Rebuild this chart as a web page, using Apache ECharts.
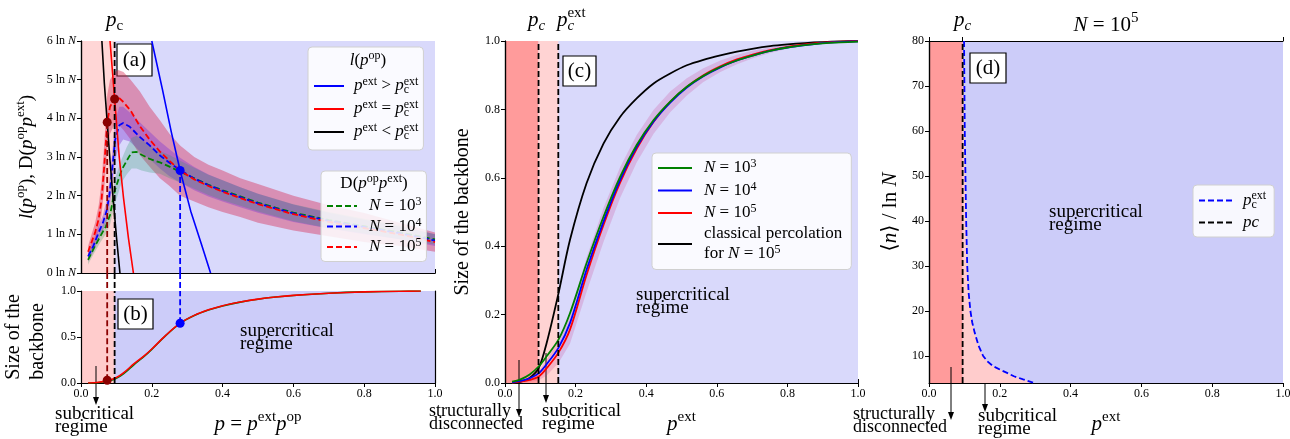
<!DOCTYPE html>
<html><head><meta charset="utf-8">
<script src="https://cdn.jsdelivr.net/npm/echarts@6/dist/echarts.min.js"></script>
<style>html,body{margin:0;padding:0;background:#fff}#c{width:1290px;height:439px}</style>
</head><body><div id="c"></div>
<script>
// ================= DATA =================
const PC = 0.095;      // p_c
const PC_EXT = 0.151;  // p_c^ext (panel c)
const P_LOW = 0.074;   // crossing black l-line / D(N=1e5)
const P_HIGH = 0.28;   // crossing blue l-line / D curves

// panel (a): l(p^op) solid lines
const lGtX = [0.200, 0.230, 0.255, 0.280, 0.310, 0.340, 0.366];
const lGtY = [6.0, 4.75, 3.65, 2.65, 1.6, 0.75, 0.0];
const lEqX = [0.082, 0.095, 0.108, 0.120, 0.134, 0.148];
const lEqY = [6.0, 4.5, 3.0, 1.95, 0.9, 0.0];
const lLtX = [0.059, 0.066, 0.074, 0.082, 0.091, 0.100, 0.110];
const lLtY = [6.0, 4.9, 3.9, 2.9, 1.9, 0.95, 0.0];

// panel (a): D(p^op p^ext) mean + band, N = 1e3
const d3X  = [0.02,0.035,0.054,0.07,0.082,0.096,0.115,0.129,0.143,0.157,0.171,0.194,0.223,0.25,0.28,0.32,0.36,0.4,0.45,0.5,0.6,0.7,0.8,0.9,1.0];
const d3Y  = [0.34,0.62,0.94,1.2,1.5,2.15,2.67,2.9,3.12,3.13,3.06,2.95,2.86,2.75,2.62,2.45,2.28,2.14,1.98,1.82,1.56,1.37,1.21,1.05,0.87];
const d3Hi = [0.45,0.75,1.1,1.4,1.75,2.45,2.95,3.25,3.5,3.55,3.45,3.3,3.15,3.05,2.9,2.72,2.54,2.4,2.22,2.05,1.78,1.58,1.4,1.23,1.0];
const d3Lo = [0.22,0.48,0.78,1.0,1.25,1.8,2.35,2.55,2.7,2.7,2.65,2.6,2.57,2.45,2.34,2.18,2.02,1.88,1.74,1.59,1.34,1.16,1.02,0.87,0.74];
// N = 1e4
const d4X  = [0.02,0.035,0.049,0.062,0.073,0.08,0.087,0.096,0.108,0.119,0.138,0.166,0.194,0.223,0.25,0.28,0.32,0.36,0.4,0.45,0.5,0.6,0.7,0.8,0.9,1.0];
const d4Y  = [0.43,0.7,1.03,1.3,1.63,2.0,2.57,3.43,3.82,3.88,3.78,3.52,3.3,3.04,2.85,2.66,2.44,2.27,2.12,1.96,1.8,1.54,1.35,1.19,1.03,0.84];
const d4Hi = [0.55,0.85,1.2,1.5,1.9,2.35,3.0,3.9,4.3,4.3,4.15,3.9,3.65,3.4,3.2,2.98,2.74,2.55,2.4,2.22,2.05,1.77,1.56,1.38,1.2,1.0];
const d4Lo = [0.3,0.55,0.85,1.1,1.35,1.65,2.1,2.9,3.3,3.45,3.4,3.15,2.95,2.7,2.5,2.34,2.14,1.98,1.85,1.7,1.56,1.32,1.15,1.0,0.87,0.7];
// N = 1e5
const d5X  = [0.02,0.03,0.04,0.05,0.058,0.066,0.074,0.082,0.095,0.105,0.12,0.14,0.166,0.194,0.223,0.25,0.28,0.32,0.36,0.4,0.45,0.5,0.6,0.7,0.8,0.9,1.0];
const d5Y  = [0.55,0.8,1.05,1.4,1.89,2.8,3.9,4.3,4.52,4.55,4.42,4.2,3.8,3.45,3.14,2.9,2.65,2.42,2.25,2.1,1.94,1.78,1.52,1.32,1.16,1.0,0.8];
const d5Hi = [0.7,1.0,1.3,1.75,2.35,3.4,4.6,5.0,5.2,5.25,5.2,5.0,4.7,4.3,3.95,3.6,3.3,3.0,2.8,2.65,2.45,2.3,2.0,1.75,1.55,1.3,1.05];
const d5Lo = [0.4,0.6,0.8,1.1,1.5,2.2,3.2,3.6,3.85,3.85,3.7,3.45,3.05,2.75,2.45,2.25,2.0,1.85,1.7,1.58,1.45,1.3,1.1,0.95,0.8,0.7,0.55];
const dotsAX = [P_LOW, PC];
const dotsAY = [3.9, 4.5];
const dotAHighY = 2.65;

// panel (b): size of backbone vs p
const bX  = [0.02,0.05,0.08,0.1,0.12,0.15,0.18,0.2,0.24,0.28,0.32,0.36,0.4,0.45,0.5,0.55,0.6,0.7,0.8,0.9,0.96];
const bY  = [0.0,0.008,0.03,0.06,0.11,0.21,0.3,0.37,0.52,0.65,0.735,0.795,0.84,0.88,0.912,0.935,0.952,0.975,0.99,0.997,1.0];
const bYg = [0.0,0.006,0.025,0.052,0.1,0.2,0.295,0.366,0.518,0.648,0.733,0.793,0.838,0.879,0.911,0.934,0.951,0.975,0.99,0.997,1.0];
const dotBLowY = 0.03;
const dotBHighY = 0.65;

// panel (c): size of backbone vs p^ext
const cX   = [0.02,0.0425,0.07,0.096,0.118,0.151,0.184,0.231,0.279,0.326,0.373,0.421,0.468,0.515,0.562,0.61,0.657,0.704,0.751,0.8,0.85,0.9,0.95,1.0];
const cN3  = [0.004,0.01,0.025,0.049,0.078,0.126,0.204,0.35,0.486,0.603,0.696,0.769,0.823,0.866,0.898,0.924,0.943,0.958,0.971,0.981,0.988,0.993,0.996,0.998];
const cN4  = [0.002,0.006,0.014,0.029,0.055,0.102,0.175,0.331,0.472,0.593,0.69,0.765,0.82,0.864,0.897,0.923,0.943,0.958,0.971,0.981,0.988,0.994,0.997,0.999];
const cN5  = [0.001,0.004,0.009,0.019,0.043,0.088,0.156,0.316,0.462,0.586,0.685,0.764,0.822,0.866,0.9,0.926,0.946,0.961,0.973,0.983,0.99,0.995,0.998,1.0];
const cN5Hi= [0.003,0.008,0.017,0.034,0.068,0.123,0.201,0.366,0.512,0.631,0.725,0.799,0.852,0.891,0.92,0.943,0.96,0.972,0.981,0.989,0.994,0.997,0.999,1.0];
const cN5Lo= [0.0,0.001,0.003,0.008,0.022,0.058,0.115,0.266,0.412,0.541,0.645,0.729,0.792,0.841,0.88,0.909,0.932,0.95,0.965,0.977,0.986,0.993,0.997,1.0];
const cClassic = [0.0,0.003,0.015,0.045,0.117,0.26,0.418,0.584,0.70,0.778,0.832,0.876,0.905,0.929,0.945,0.958,0.969,0.978,0.985,0.99,0.994,0.997,0.999,1.0];

// panel (d): p_c^ext curve, <n>/lnN vs p^ext
const dCurveX = [0.099,0.101,0.103,0.105,0.108,0.112,0.117,0.122,0.129,0.14,0.153,0.165,0.18,0.2,0.219,0.24,0.266,0.294];
const dCurveY = [80,60,50,40,30,24,20,17.5,15.2,12.3,10,8.8,7.8,7.0,6.3,5.5,4.8,4.07];
const dTicksY = [10,20,30,40,50,60,70,80];

// ================= STYLE =================
const FF = "'Liberation Serif','DejaVu Serif',serif";
const zip = (xs, ys) => xs.map((x, i) => [x, ys[i]]);
function R(F, L) {
  const s = Math.round(F * 0.7);
  return {
    t:    {fontSize:F, fontFamily:FF, lineHeight:L, align:'left', color:'#000'},
    i:    {fontSize:F, fontFamily:FF, fontStyle:'italic', lineHeight:L, align:'left', color:'#000'},
    sup:  {fontSize:s, fontFamily:FF, lineHeight:L, verticalAlign:'top', align:'left', color:'#000'},
    sub:  {fontSize:s, fontFamily:FF, lineHeight:L, verticalAlign:'bottom', align:'left', color:'#000'},
    subi: {fontSize:s, fontFamily:FF, fontStyle:'italic', lineHeight:L, verticalAlign:'bottom', align:'left', color:'#000'},
    sub0: {fontSize:s, fontFamily:FF, lineHeight:L, verticalAlign:'bottom', align:'left', width:0, color:'#000'},
    subi0:{fontSize:s, fontFamily:FF, fontStyle:'italic', lineHeight:L, verticalAlign:'bottom', align:'left', width:0, color:'#000'}
  };
}
const BLUE='#0000ff', RED='#ff0000', GREEN='#008000', DRED='#8b0000';
const PINK_A='#ffd6d6', LAV_A='#d9d9fb', PINK_B='#ffcccc', LAV_B='#ccccf9';
const PINK_D='#ff9b9b', PINK_L='#ffd3d3', LAV_C='#d9d9fb', LAV_D='#ccccf9';
const DASH = [6, 3];

const tickLbl = {fontSize:12, fontFamily:FF, color:'#000', margin:5};
const axLine = {show:true, lineStyle:{color:'#000', width:1.2}};
const axTick = {show:true, inside:false, length:4, lineStyle:{color:'#000', width:1}};
const fmt1 = v => v.toFixed(1);

function xBottom(g, showLabels, name) {
  return {type:'value', gridIndex:g, position:'bottom', min:0, max:1, interval:0.2,
    axisLine:axLine, axisTick: showLabels ? axTick : {show:false},
    axisLabel: showLabels ? Object.assign({formatter:fmt1}, tickLbl) : {show:false},
    splitLine:{show:false}, name: name || '', nameLocation:'middle', nameGap:27,
    nameTextStyle:{fontSize:21, fontFamily:FF, color:'#000', rich:R(21, 28)}};
}
function xTop(g, vals) {
  return {type:'value', gridIndex:g, position:'top', min:0, max:1,
    axisLine:axLine, axisTick:Object.assign({customValues:[0].concat(vals, [1])}, axTick),
    axisLabel:{show:false}, splitLine:{show:false}};
}
function yRight(g, min, max) {
  return {type:'value', gridIndex:g, position:'right', min:min, max:max,
    axisLine:axLine, axisTick:{show:false}, axisLabel:{show:false}, splitLine:{show:false}};
}

function bgSeries(xi, yi, areas) {
  return {type:'line', xAxisIndex:xi, yAxisIndex:yi, data:[[0, 0]], symbol:'none', silent:true, z:0,
    lineStyle:{width:0, opacity:0},
    markArea:{silent:true, z:0, label:{show:false},
      data: areas.map(a => [{xAxis:a[0], itemStyle:{color:a[2], opacity:1}}, {xAxis:a[1]}])}};
}
function band(xi, yi, xs, lo, hi, color) {
  return {type:'custom', xAxisIndex:xi, yAxisIndex:yi, silent:true, z:1, clip:true,
    data:[[xs[0], lo[0]]],
    renderItem:(params, api) => {
      const pts = [];
      for (let k = 0; k < xs.length; k++) pts.push(api.coord([xs[k], hi[k]]));
      for (let k = xs.length - 1; k >= 0; k--) pts.push(api.coord([xs[k], lo[k]]));
      return {type:'polygon', shape:{points:pts}, style:{fill:color}};
    }};
}
function line(name, xi, yi, data, color, width, dashed, z, smooth) {
  return {type:'line', name:name, xAxisIndex:xi, yAxisIndex:yi, data:data, symbol:'none',
    smooth: smooth || false, silent:true, z:z || 3,
    lineStyle:{color:color, width:width, type: dashed ? DASH : 'solid'}, itemStyle:{color:color}};
}
function vline(name, xi, yi, x, y0, y1, color) {
  return line(name, xi, yi, [[x, y0], [x, y1]], color, 1.8, true, 4);
}
function dots(xi, yi, data, color) {
  return {type:'scatter', xAxisIndex:xi, yAxisIndex:yi, data:data, symbolSize:9, silent:true, z:5,
    itemStyle:{color:color, opacity:1}};
}

const chart = echarts.init(document.getElementById('c'), null, {renderer:'canvas'});

const legBase = {orient:'vertical', selectedMode:false, backgroundColor:'rgba(255,255,255,0.85)',
  borderColor:'#d0d0d0', borderWidth:1, borderRadius:4,
  itemStyle:{opacity:0, borderWidth:0}};
const legendNames = {
  l_gt:'{i|p}{sup|ext}{t| > }{i|p}{sub0|c}{sup|ext}',
  l_eq:'{i|p}{sup|ext}{t| = }{i|p}{sub0|c}{sup|ext}',
  l_lt:'{i|p}{sup|ext}{t| < }{i|p}{sub0|c}{sup|ext}',
  D3:'{i|N}{t| = 10}{sup|3}', D4:'{i|N}{t| = 10}{sup|4}', D5:'{i|N}{t| = 10}{sup|5}',
  c3:'{i|N}{t| = 10}{sup|3}', c4:'{i|N}{t| = 10}{sup|4}', c5:'{i|N}{t| = 10}{sup|5}',
  cc:'{t|classical percolation}\n{t|for }{i|N}{t| = 10}{sup|5}',
  dext:'{i|p}{sub0|c}{sup|ext}', dpc:'{i|pc}'
};
const legFmt = n => legendNames[n] || n;

const option = {
  animation:false,
  backgroundColor:'#fff',
  grid:[
    {left:81, top:41, width:354, height:232, show:true, backgroundColor:LAV_A, borderWidth:0, outerBoundsMode:'none'},
    {left:81, top:291, width:354, height:92, show:true, backgroundColor:LAV_B, borderWidth:0, outerBoundsMode:'none'},
    {left:505, top:41, width:353, height:342, show:true, backgroundColor:LAV_C, borderWidth:0, outerBoundsMode:'none'},
    {left:929, top:41, width:354, height:342, show:true, backgroundColor:LAV_D, borderWidth:0, outerBoundsMode:'none'}
  ],
  xAxis:[
    xBottom(0, false),
    xTop(0, [PC]),
    xBottom(1, true, '{i|p}{t| = }{i|p}{sup|ext}{i|p}{sup|op}'),
    xBottom(2, true, '{i|p}{sup|ext}'),
    xTop(2, [PC, PC_EXT]),
    xBottom(3, true, '{i|p}{sup|ext}'),
    xTop(3, [PC])
  ],
  yAxis:[
    {type:'value', gridIndex:0, min:0, max:6, interval:1, axisLine:axLine, axisTick:axTick,
     axisLabel:Object.assign({formatter: v => v + ' ln {i|N}', rich:{i:{fontStyle:'italic', fontSize:12, fontFamily:FF, color:'#000'}}}, tickLbl),
     splitLine:{show:false}, name:'{i|l}{t|(}{i|p}{sup|op}{t|), D(}{i|p}{sup|op}{i|p}{sup|ext}{t|)}',
     nameLocation:'middle', nameGap:41, nameTextStyle:{fontSize:19, fontFamily:FF, color:'#000', rich:R(19, 26)}},
    yRight(0, 0, 6),
    {type:'value', gridIndex:1, min:0, max:1, interval:0.5, axisLine:axLine, axisTick:axTick,
     axisLabel:Object.assign({formatter:fmt1}, tickLbl), splitLine:{show:false},
     name:'{t|Size of the}\n{t|backbone}', nameLocation:'middle', nameGap:31,
     nameTextStyle:{fontSize:20, fontFamily:FF, color:'#000', rich:R(20, 24)}},
    yRight(1, 0, 1),
    {type:'value', gridIndex:2, min:0, max:1, interval:0.2, axisLine:axLine, axisTick:axTick,
     axisLabel:Object.assign({formatter:fmt1}, tickLbl), splitLine:{show:false},
     name:'{t|Size of the backbone}', nameLocation:'middle', nameGap:30,
     nameTextStyle:{fontSize:20, fontFamily:FF, color:'#000', rich:R(20, 24)}},
    yRight(2, 0, 1),
    {type:'value', gridIndex:3, min:4, max:80, axisLine:axLine,
     axisTick:Object.assign({customValues:dTicksY}, axTick),
     axisLabel:Object.assign({customValues:dTicksY}, tickLbl), splitLine:{show:false},
     name:'{t|⟨}{i|n}{t|⟩ / ln }{i|N}', nameLocation:'middle', nameGap:26,
     nameTextStyle:{fontSize:21, fontFamily:FF, color:'#000', rich:R(21, 26)}},
    yRight(3, 4, 80)
  ],
  legend:[
    Object.assign({}, legBase, {data:['l_gt','l_eq','l_lt'], left:308, top:47, padding:[29,5,8,5],
      itemGap:3, itemWidth:30, itemHeight:14, formatter:legFmt,
      textStyle:{fontSize:17, fontFamily:FF, color:'#000', padding:[0,0,0,5], rich:R(17, 20)}}),
    Object.assign({}, legBase, {data:['D3','D4','D5'], left:321, top:171, padding:[25,5,6,5],
      itemGap:2, itemWidth:30, itemHeight:14, formatter:legFmt,
      textStyle:{fontSize:17, fontFamily:FF, color:'#000', padding:[0,0,0,7], rich:R(17, 20)}}),
    Object.assign({}, legBase, {data:['c3','c4','c5','cc'], left:652, top:153, padding:[5,9,7,5],
      itemGap:4, itemWidth:34, itemHeight:14, formatter:legFmt,
      textStyle:{fontSize:17, fontFamily:FF, color:'#000', padding:[0,0,0,7], rich:R(17, 20)}}),
    Object.assign({}, legBase, {data:['dext','dpc'], left:1193, top:185, padding:[5,8,6,5],
      itemGap:3, itemWidth:33, itemHeight:14, formatter:legFmt,
      textStyle:{fontSize:17, fontFamily:FF, color:'#000', padding:[0,0,0,6], rich:R(17, 21)}})
  ],
  series:[
    // ---- panel (a)
    bgSeries(0, 0, [[0, PC, PINK_A]]),
    band(0, 0, d5X, d5Lo, d5Hi, 'rgba(215,40,80,0.42)'),
    band(0, 0, d4X, d4Lo, d4Hi, 'rgba(130,60,210,0.42)'),
    band(0, 0, d3X, d3Lo, d3Hi, 'rgba(40,150,100,0.26)'),
    line('D3', 0, 0, zip(d3X, d3Y), GREEN, 1.8, true, 3),
    line('D4', 0, 0, zip(d4X, d4Y), BLUE, 1.8, true, 3),
    line('D5', 0, 0, zip(d5X, d5Y), RED, 1.8, true, 3),
    line('l_gt', 0, 0, zip(lGtX, lGtY), BLUE, 1.6, false, 3),
    line('l_eq', 0, 0, zip(lEqX, lEqY), RED, 1.6, false, 3),
    line('l_lt', 0, 0, zip(lLtX, lLtY), '#000', 1.6, false, 3),
    vline('va1', 0, 0, P_LOW, 0, dotsAY[0], DRED),
    vline('va2', 0, 0, PC, 0, 6, '#000'),
    vline('va3', 0, 0, P_HIGH, 0, dotAHighY, BLUE),
    dots(0, 0, zip(dotsAX, dotsAY), DRED),
    dots(0, 0, [[P_HIGH, dotAHighY]], BLUE),
    // ---- panel (b)
    bgSeries(2, 2, [[0, PC, PINK_B]]),
    line('bg', 2, 2, zip(bX, bYg), GREEN, 1.6, false, 3, 0.3),
    line('br', 2, 2, zip(bX, bY), RED, 1.6, false, 3, 0.3),
    vline('vb1', 2, 2, P_LOW, dotBLowY, 1, DRED),
    vline('vb2', 2, 2, PC, 0, 1, '#000'),
    vline('vb3', 2, 2, P_HIGH, dotBHighY, 1, BLUE),
    dots(2, 2, [[P_LOW, dotBLowY]], DRED),
    dots(2, 2, [[P_HIGH, dotBHighY]], BLUE),
    // ---- panel (c)
    bgSeries(3, 4, [[0, PC, PINK_D], [PC, PC_EXT, PINK_L]]),
    band(3, 4, cX, cN5Lo, cN5Hi, 'rgba(200,60,140,0.22)'),
    line('cc', 3, 4, zip(cX, cClassic), '#000', 1.8, false, 3, 0.3),
    line('c5', 3, 4, zip(cX, cN5), RED, 1.8, false, 3, 0.3),
    line('c4', 3, 4, zip(cX, cN4), BLUE, 1.8, false, 3, 0.3),
    line('c3', 3, 4, zip(cX, cN3), GREEN, 1.8, false, 3, 0.3),
    vline('vc1', 3, 4, PC, 0, 1, '#000'),
    vline('vc2', 3, 4, PC_EXT, 0, 1, '#000'),
    // ---- panel (d)
    bgSeries(5, 6, [[0, PC, PINK_D]]),
    {type:'line', xAxisIndex:5, yAxisIndex:6, data:[[PC, 80]].concat(zip(dCurveX, dCurveY)), symbol:'none',
     silent:true, z:1, lineStyle:{width:0, opacity:0},
     areaStyle:{color:PINK_B, opacity:1, origin:'start'}},
    line('dext', 5, 6, zip(dCurveX, dCurveY), BLUE, 1.8, true, 3),
    vline('dpc', 5, 6, PC, 4, 80, '#000')
  ]
};
chart.setOption(option);

// ---- annotations (layout only) ----
function boxLabel(x, y, w, h, txt) {
  return {type:'group', z:100, children:[
    {type:'rect', shape:{x:x, y:y, width:w, height:h}, style:{fill:'#fff', stroke:'#000', lineWidth:1.2}},
    {type:'text', x:x + w / 2, y:y + h / 2, style:{text:txt, fontSize:21, fontFamily:FF, fill:'#000', align:'center', verticalAlign:'middle'}}
  ]};
}
function regimeText(x, y, l1, l2, F) {
  return {type:'text', x:x, y:y, z:100, style:{text:l1 + '\n' + l2, fontSize:F || 19, fontFamily:FF, fill:'#000', lineHeight:13, align:'left', verticalAlign:'top'}};
}
function arrow(x, y1, y2) {
  return {type:'group', z:100, children:[
    {type:'line', shape:{x1:x, y1:y1, x2:x, y2:y2 - 6}, style:{stroke:'#000', lineWidth:1}},
    {type:'polygon', shape:{points:[[x - 3, y2 - 8], [x + 3, y2 - 8], [x, y2]]}, style:{fill:'#000'}}
  ]};
}
function richText(x, y, txt, F, L, align) {
  return {type:'text', x:x, y:y, z:100, style:{text:txt, rich:R(F, L), fontSize:F, fontFamily:FF, fill:'#000', align:align || 'center', verticalAlign:'middle'}};
}
const graphics = [
  boxLabel(117, 44, 35, 32, '(a)'),
  boxLabel(118, 299, 35, 30, '(b)'),
  boxLabel(563, 56, 33, 30, '(c)'),
  boxLabel(970, 53, 36, 30, '(d)'),
  richText(368, 61, '{i|l}{t|(}{i|p}{sup|op}{t|)}', 17, 22),
  richText(374, 184, '{t|D(}{i|p}{sup|op}{i|p}{sup|ext}{t|)}', 17, 22),
  richText(1106, 25, '{i|N}{t| = 10}{sup|5}', 21, 28),
  regimeText(240, 325, 'supercritical', 'regime'),
  regimeText(636, 289, 'supercritical', 'regime'),
  regimeText(1049, 206, 'supercritical', 'regime'),
  regimeText(55, 408, 'subcritical', 'regime'),
  regimeText(542, 405, 'subcritical', 'regime'),
  regimeText(978, 410, 'subcritical', 'regime'),
  regimeText(429, 405, 'structurally', 'disconnected', 18),
  regimeText(853, 408, 'structurally', 'disconnected', 18),
  arrow(96, 366, 405),
  arrow(519, 360, 417),
  arrow(546, 353, 403),
  arrow(951, 367, 420),
  arrow(985, 372, 412)
];
// top-axis labels placed at the data positions of the thresholds
const topA = chart.convertToPixel({xAxisIndex:0, yAxisIndex:0}, [PC, 6]);
graphics.push(richText(topA[0], topA[1] - 21, '{i|p}{sub|c}', 21, 28));
const topC1 = chart.convertToPixel({xAxisIndex:3, yAxisIndex:4}, [PC, 1]);
graphics.push(richText(topC1[0] - 2, topC1[1] - 21, '{i|p}{subi|c}', 21, 28));
const topC2 = chart.convertToPixel({xAxisIndex:3, yAxisIndex:4}, [PC_EXT, 1]);
graphics.push(richText(topC2[0] + 13, topC2[1] - 21, '{i|p}{subi0|c}{sup|ext}', 21, 28));
const topD = chart.convertToPixel({xAxisIndex:5, yAxisIndex:6}, [PC, 80]);
graphics.push(richText(topD[0], topD[1] - 21, '{i|p}{subi|c}', 21, 28));
// dashed connectors across the gap between panels (a) and (b)
[[P_LOW, DRED], [PC, '#000'], [P_HIGH, BLUE]].forEach(([x, col]) => {
  const p0 = chart.convertToPixel({xAxisIndex:0, yAxisIndex:0}, [x, 0]);
  const p1 = chart.convertToPixel({xAxisIndex:2, yAxisIndex:2}, [x, 1]);
  graphics.push({type:'line', z:50, shape:{x1:p0[0], y1:p0[1], x2:p1[0], y2:p1[1]},
    style:{stroke:col, lineWidth:1.8, lineDash:DASH}});
});
chart.setOption({graphic:graphics});
</script></body></html>
